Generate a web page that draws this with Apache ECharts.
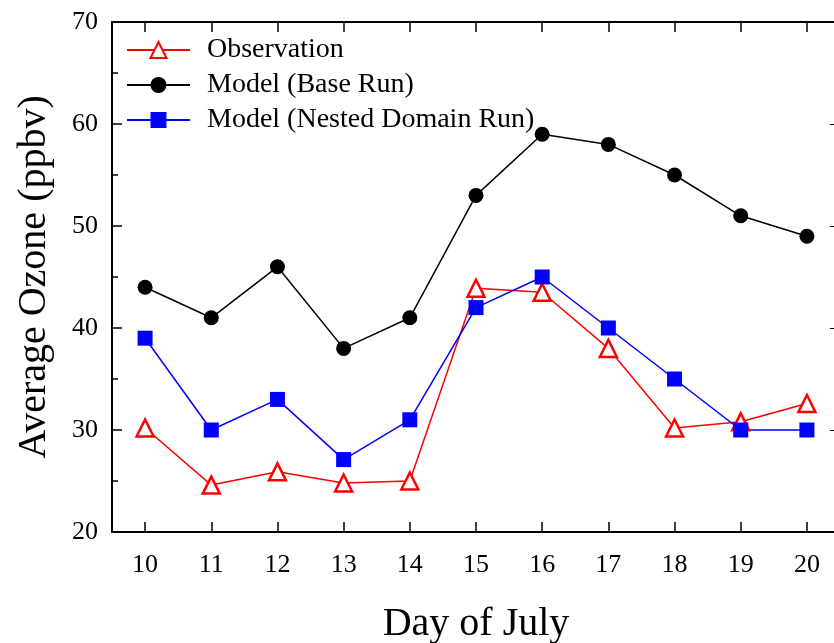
<!DOCTYPE html>
<html><head><meta charset="utf-8">
<script src="https://cdn.jsdelivr.net/npm/echarts@6/dist/echarts.min.js"></script>
<style>html,body{margin:0;padding:0;background:#fff}#c{width:834px;height:643px}</style>
</head><body><div id="c"></div>
<script>
const days = ['10','11','12','13','14','15','16','17','18','19','20'];
const observation = [30.2, 24.6, 25.9, 24.8, 25.0, 43.9, 43.5, 38.0, 30.2, 30.8, 32.6];
const baseRun = [44, 41, 46, 38, 41, 53, 59, 58, 55, 51, 49];
const nestedRun = [39, 30, 33, 27.1, 31, 42, 45, 40, 35, 30, 30];
const seriesNames = ['Observation', 'Model (Base Run)', 'Model (Nested Domain Run)'];

const font = 'Liberation Serif';
const chart = echarts.init(document.getElementById('c'));
const axLine = {show: true, lineStyle: {color: '#000', width: 2}};
chart.setOption({
  animation: false,
  grid: {left: 112, top: 22, right: -6, bottom: 111, containLabel: false, outerBoundsMode: 'none'},
  legend: {
    orient: 'vertical', left: 121, top: 31, itemWidth: 63, itemHeight: 20, itemGap: 7,
    textStyle: {fontFamily: font, fontSize: 28, color: '#000', padding: [0, 0, 0, 12]},
    data: seriesNames
  },
  xAxis: [{
    type: 'category', data: days, boundaryGap: true, position: 'bottom',
    name: 'Day of July', nameLocation: 'middle', nameGap: 72,
    nameTextStyle: {fontFamily: font, fontSize: 40, color: '#000'},
    axisLine: axLine,
    axisTick: {show: true, alignWithLabel: true, inside: true, length: 10, lineStyle: {color: '#000', width: 1.5}},
    axisLabel: {fontFamily: font, fontSize: 26, color: '#000', margin: 20},
    splitLine: {show: false}
  }, {
    type: 'category', data: days, boundaryGap: true, position: 'top',
    axisLine: axLine,
    axisTick: {show: true, alignWithLabel: true, inside: true, length: 10, lineStyle: {color: '#000', width: 1.5}},
    axisLabel: {show: false}, splitLine: {show: false}
  }],
  yAxis: [{
    type: 'value', min: 20, max: 70, interval: 10, position: 'left',
    name: 'Average Ozone (ppbv)', nameLocation: 'middle', nameGap: 58,
    nameTextStyle: {fontFamily: font, fontSize: 40, color: '#000'},
    axisLine: axLine,
    axisTick: {show: true, inside: true, length: 10, lineStyle: {color: '#000', width: 1.5}},
    minorTick: {show: true, splitNumber: 2, length: 6, lineStyle: {color: '#000', width: 1.5}},
    axisLabel: {fontFamily: font, fontSize: 26, color: '#000', margin: 14},
    splitLine: {show: false}
  }, {
    type: 'value', min: 20, max: 70, interval: 10, position: 'right',
    axisLine: axLine,
    axisTick: {show: true, inside: true, length: 10},
    axisLabel: {show: false}, splitLine: {show: false}
  }],
  series: [{
    name: seriesNames[0], type: 'line', data: observation,
    symbol: 'triangle', symbolSize: 17, showAllSymbol: true,
    lineStyle: {color: '#ff0000', width: 1.5},
    itemStyle: {color: '#fff', borderColor: '#ff0000', borderWidth: 2.5}
  }, {
    name: seriesNames[1], type: 'line', data: baseRun,
    symbol: 'circle', symbolSize: 15,
    lineStyle: {color: '#000', width: 1.5},
    itemStyle: {color: '#000', borderColor: '#000', borderWidth: 0}
  }, {
    name: seriesNames[2], type: 'line', data: nestedRun,
    symbol: 'rect', symbolSize: 15,
    lineStyle: {color: '#0000ff', width: 1.5},
    itemStyle: {color: '#0000ff', borderWidth: 0}
  }]
});
</script></body></html>
